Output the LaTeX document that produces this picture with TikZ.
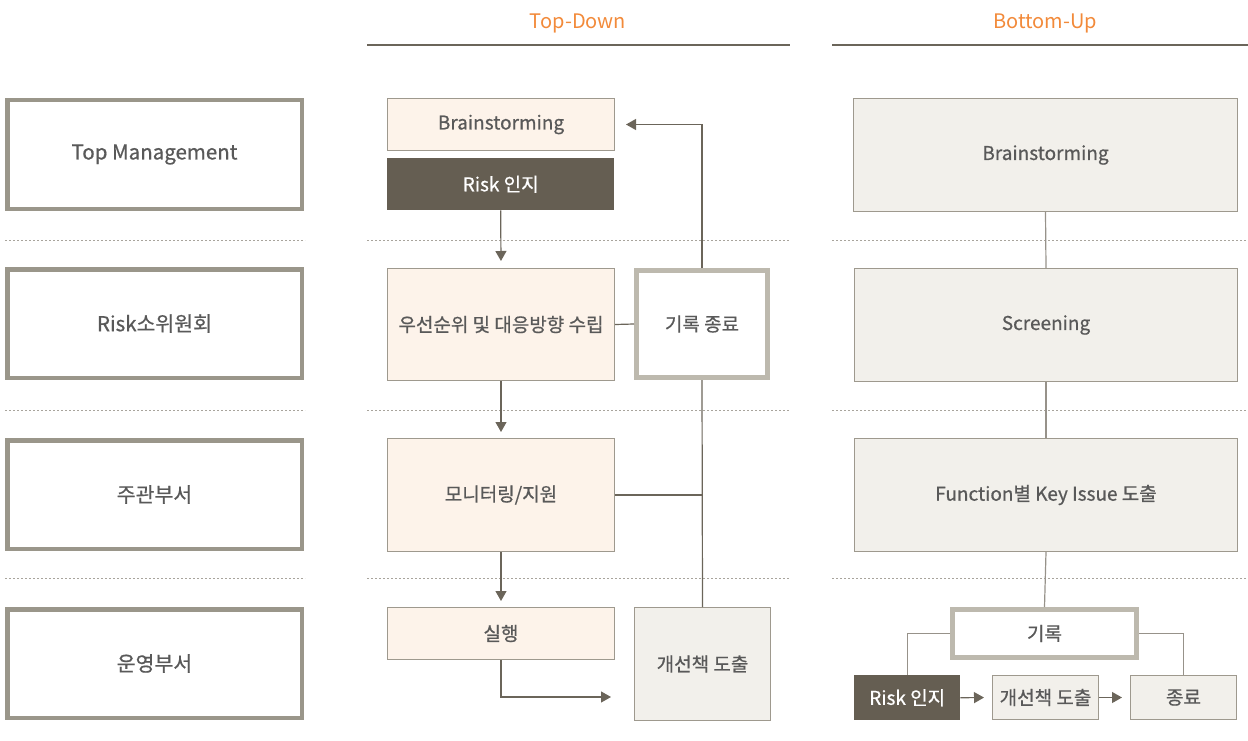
\documentclass[tikz,border=0pt]{standalone}
\usepackage{fontspec}
\setmainfont{Noto Sans CJK KR}
\newfontfamily\medfont{Noto Sans CJK KR}[FakeBold=0.7]
\usetikzlibrary{arrows.meta}
\definecolor{txt}{HTML}{595959}
\definecolor{orangeT}{HTML}{F28A3A}
\definecolor{laneC}{HTML}{9A968A}
\definecolor{bd}{HTML}{9E998E}
\definecolor{cream}{HTML}{FDF3EA}
\definecolor{darkC}{HTML}{655E52}
\definecolor{lightg}{HTML}{F2F0EB}
\definecolor{recC}{HTML}{BDB9AE}
\definecolor{lc}{HTML}{6B655A}
\definecolor{lc2}{HTML}{97928A}
\definecolor{dotC}{HTML}{A8A49C}
\tikzset{
  lane/.style={draw=laneC, line width=4.5pt, fill=white, text=txt, font=\medfont\fontsize{20.5}{24}\selectfont, minimum width=294.5pt, minimum height=108.5pt, anchor=north west},
  tdbox/.style={draw=bd, line width=1pt, fill=cream, text=txt, font=\medfont\fontsize{19}{22}\selectfont, anchor=north west},
  darkbox/.style={draw=none, fill=darkC, text=white, font=\medfont\fontsize{19}{22}\selectfont, anchor=north west},
  graybox/.style={draw=bd, line width=1pt, fill=lightg, text=txt, font=\medfont\fontsize{19}{22}\selectfont, anchor=north west},
  recbox/.style={draw=recC, line width=5pt, fill=white, text=txt, font=\medfont\fontsize{19}{22}\selectfont, anchor=north west},
  conn/.style={draw=lc, line width=1.2pt},
  lconn/.style={draw=lc2, line width=1.2pt},
  arr/.style={conn, -{Triangle[width=11pt,length=10pt]}},
  dotline/.style={draw=dotC, line width=1pt, dash pattern=on 2pt off 2pt},
  titleline/.style={draw=lc, line width=2.5pt},
  ttl/.style={text=orangeT, font=\fontsize{20}{24}\selectfont}
}
\begin{document}
\begin{tikzpicture}[x=1pt,y=-1pt]
\useasboundingbox (0,0) rectangle (1248,741);
% titles
\node[ttl] (tdT) at (578,23) {Top-Down};
\node[ttl] (buT) at (1045,23) {Bottom-Up};
\draw[titleline] (367,45) -- (790,45);
\draw[titleline] (832,45) -- (1248,45);
% dotted separators
\foreach \y in {240,410,578}{
  \draw[dotline] (5,\y) -- (305,\y);
  \draw[dotline] (367,\y) -- (790,\y);
  \draw[dotline] (832,\y) -- (1248,\y);
}
% lanes
\node[lane] (l1) at (5,98) {Top Management};
\node[lane] (l2) at (5,267) {Risk소위원회};
\node[lane] (l3) at (5,438) {주관부서};
\node[lane] (l4) at (5,607) {운영부서};
% Top-Down column
\node[tdbox, minimum width=227pt, minimum height=52pt] (bs) at (387,98) {Brainstorming};
\node[darkbox, minimum width=227pt, minimum height=52pt] (risk) at (387,158) {Risk 인지};
\node[tdbox, minimum width=227pt, minimum height=112pt] (prio) at (387,268) {우선순위 및 대응방향 수립};
\node[tdbox, minimum width=227pt, minimum height=113pt] (mon) at (387,438) {모니터링/지원};
\node[tdbox, minimum width=227pt, minimum height=52pt] (exec) at (387,607) {실행};
\node[recbox, minimum width=131pt, minimum height=107pt] (rec) at (634,268) {기록 종료};
\node[graybox, minimum width=136pt, minimum height=113pt] (imp) at (634,607) {개선책 도출};
\coordinate (e1) at (634,697);
\draw[arr, shorten >=7pt] (risk.south) -- (prio.north);
\draw[arr, shorten >=6pt] (prio.south) -- (mon.north);
\draw[arr, shorten >=6pt] (mon.south) -- (exec.north);
\draw[arr, shorten >=23pt] (exec.south) |- (e1);
\draw[conn] (prio.east) -- (rec.west);
\draw[conn] (imp.north) -- (rec.south);
\draw[conn] (mon.east) -- (mon.east -| imp.north);
\draw[arr, shorten >=11pt] (rec.north) |- (bs.east);
% Bottom-Up column
\node[graybox, minimum width=384pt, minimum height=113pt] (bs2) at (853,98) {Brainstorming};
\node[graybox, minimum width=383pt, minimum height=113pt] (scr) at (854,268) {Screening};
\node[graybox, minimum width=383pt, minimum height=113pt] (fun) at (854,438) {Function별 Key Issue 도출};
\node[recbox, minimum width=184pt, minimum height=48pt] (rec2) at (950,607) {기록};
\node[darkbox, minimum width=106pt, minimum height=45pt] (risk2) at (854,675) {Risk 인지};
\node[graybox, minimum width=106pt, minimum height=44pt] (imp2) at (992,675) {개선책 도출};
\node[graybox, minimum width=106pt, minimum height=44pt] (end2) at (1130,675) {종료};
\draw[lconn] (bs2.south) -- (scr.north);
\draw[lconn] (scr.south) -- (fun.north);
\draw[lconn] (fun.south) -- (rec2.north);
\draw[lconn] (rec2.west) -| (risk2.north);
\draw[lconn] (rec2.east) -| (end2.north);
\draw[arr, shorten >=8pt] (risk2.east) -- (imp2.west);
\draw[arr, shorten >=8pt] (imp2.east) -- (end2.west);
\end{tikzpicture}
\end{document}
